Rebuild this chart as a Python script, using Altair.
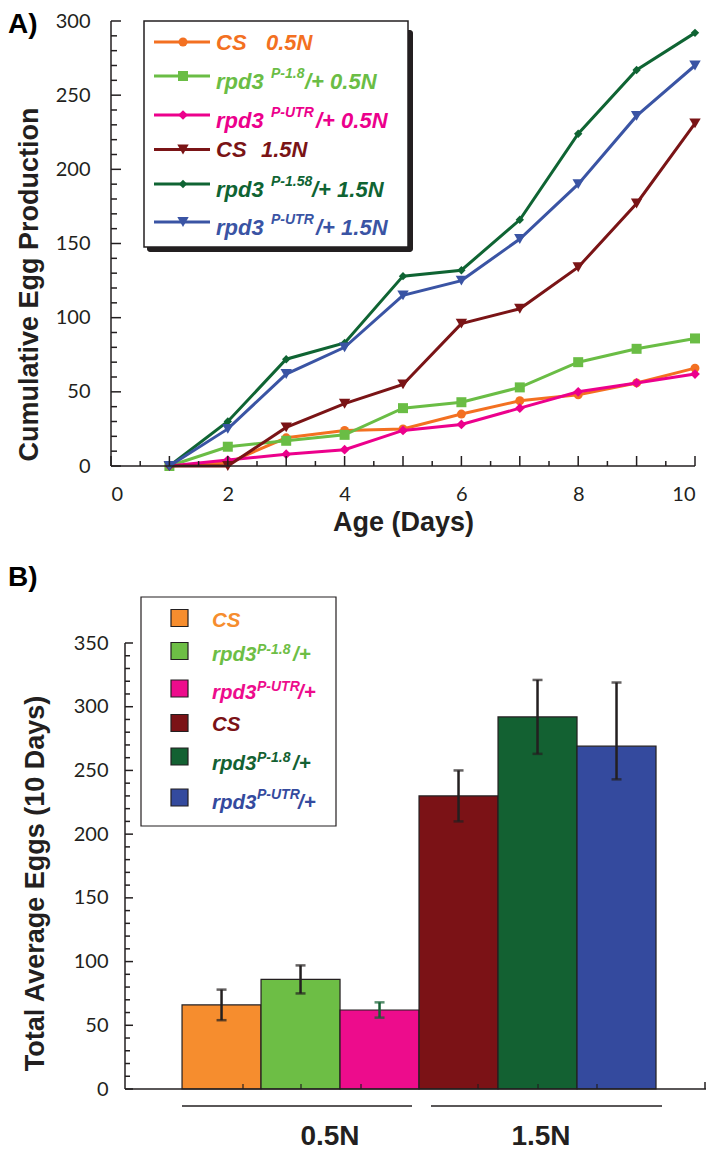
import altair as alt
import pandas as pd

# ---------------- Panel A data ----------------
days = [1, 2, 3, 4, 5, 6, 7, 8, 9, 10]
cs_05 = [0, 2, 19, 24, 25, 35, 44, 48, 56, 66]
p18_05 = [0, 13, 17, 21, 39, 43, 53, 70, 79, 86]
utr_05 = [0, 4, 8, 11, 24, 28, 39, 50, 56, 62]
cs_15 = [0, 0, 26, 42, 55, 96, 106, 134, 177, 231]
p158_15 = [0, 30, 72, 83, 128, 132, 166, 224, 267, 292]
utr_15 = [0, 25, 62, 80, 115, 125, 153, 190, 236, 270]
series_names = ["CS 0.5N", "rpd3 P-1.8/+ 0.5N", "rpd3 P-UTR/+ 0.5N",
                "CS 1.5N", "rpd3 P-1.58/+ 1.5N", "rpd3 P-UTR/+ 1.5N"]
series_values = [cs_05, p18_05, utr_05, cs_15, p158_15, utr_15]
x_tick_labels_a = [0, 2, 4, 6, 8, 10]
y_tick_labels_a = [0, 50, 100, 150, 200, 250, 300]

legA_base = ["CS", "rpd3", "rpd3", "CS", "rpd3", "rpd3"]
legA_sup = ["", "P-1.8", "P-UTR", "", "P-1.58", "P-UTR"]
legA_suffix = ["0.5N", "/+ 0.5N", "/+ 0.5N", "1.5N", "/+ 1.5N", "/+ 1.5N"]

# ---------------- Panel B data ----------------
bar_categories = ["CS 0.5N", "rpd3 P-1.8/+ 0.5N", "rpd3 P-UTR/+ 0.5N",
                  "CS 1.5N", "rpd3 P-1.8/+ 1.5N", "rpd3 P-UTR/+ 1.5N"]
bar_means = [66, 86, 62, 230, 292, 269]
bar_err_low = [12, 11, 6, 20, 29, 26]
bar_err_high = [12, 11, 6, 20, 29, 50]
y_tick_labels_b = [0, 50, 100, 150, 200, 250, 300, 350]
group_labels = ["0.5N", "1.5N"]

legB_base = ["CS", "rpd3", "rpd3", "CS", "rpd3", "rpd3"]
legB_sup = ["", "P-1.8", "P-UTR", "", "P-1.8", "P-UTR"]
legB_suffix = ["", "/+", "/+", "", "/+", "/+"]

# ---------------- styles ----------------
ink = "#231F20"
line_colors = ["#F37021", "#6ABD45", "#EC008C", "#7A1416", "#0F6433", "#3A54A4"]
shapes = ["circle", "square", "diamond", "triangle-down", "diamond", "triangle-down"]
sizes = [80, 100, 95, 130, 70, 130]
bar_colors = ["#F68D2E", "#6DBE45", "#ED0C8C", "#7B1216", "#136132", "#344A9E"]
err_colors = [ink, ink, "#136132", ink, ink, ink]
FONT = "Liberation Sans"
NUMFONT = "Lato"

W_A, H_A = 584, 445
W_B, H_B = 595, 446

one = pd.DataFrame({"k": [0]})


def txt(s, x, y, color, size, italic=True, align="left", baseline="alphabetic"):
    kw = dict(text=s, align=align, baseline=baseline, font=FONT, fontSize=size,
              fontWeight="bold", color=color)
    if italic:
        kw["fontStyle"] = "italic"
    return alt.Chart(one).mark_text(**kw).encode(x=alt.value(x), y=alt.value(y))


def hrule(x1, x2, y, color=ink, w=1.5):
    return alt.Chart(one).mark_rule(color=color, strokeWidth=w).encode(
        x=alt.value(x1), x2=alt.value(x2), y=alt.value(y))


def vrule(x, y1, y2, color=ink, w=1.5):
    return alt.Chart(one).mark_rule(color=color, strokeWidth=w).encode(
        x=alt.value(x), y=alt.value(y1), y2=alt.value(y2))


# ================= Panel A =================
xA = alt.Scale(domain=[0, 10], nice=False, zero=False)
yA = alt.Scale(domain=[0, 300], nice=False)

axisXA = alt.Axis(values=x_tick_labels_a, domain=False, ticks=False, tickSize=0, grid=False,
                  labelFont=NUMFONT, labelFontSize=20, labelColor=ink, labelPadding=18,
                  title="Age (Days)", titleFont=FONT, titleFontSize=27, titleFontWeight="bold",
                  titleColor=ink, titlePadding=5)
axisYA = alt.Axis(values=y_tick_labels_a, domain=False, ticks=False, tickSize=0, grid=False,
                  labelFont=NUMFONT, labelFontSize=20, labelColor=ink, labelPadding=21,
                  title="Cumulative Egg Production", titleFont=FONT, titleFontSize=27,
                  titleFontWeight="bold", titleColor=ink, titleAngle=270, titleAlign="center",
                  titleBaseline="alphabetic", titleX=-74, titleY=263)


def XA(f):
    return alt.X(f, scale=xA, axis=axisXA, title="Age (Days)")


def YA(f):
    return alt.Y(f, scale=yA, axis=axisYA, title="Cumulative Egg Production")


layersA = []
for i, (name, vals) in enumerate(zip(series_names, series_values)):
    df = pd.DataFrame({"day": days, "eggs": vals})
    layersA.append(alt.Chart(df).mark_line(color=line_colors[i], strokeWidth=3).encode(
        x=XA("day:Q"), y=YA("eggs:Q")))
    layersA.append(alt.Chart(df).mark_point(shape=shapes[i], size=sizes[i], filled=True,
                                             opacity=1, color=line_colors[i]).encode(
        x=XA("day:Q"), y=YA("eggs:Q")))

# axis lines
layersA.append(hrule(0, W_A, H_A))
layersA.append(vrule(0, 0, H_A))
# inward ticks
xt_major = pd.DataFrame({"v": list(range(0, 11))})
xt_minor = pd.DataFrame({"v": [i + 0.5 for i in range(10)]})
yt_major = pd.DataFrame({"v": list(range(0, 301, 50))})
yt_minor = pd.DataFrame({"v": [v for v in range(0, 301, 10) if v % 50]})
for df, ln in [(xt_major, 10), (xt_minor, 5)]:
    layersA.append(alt.Chart(df).mark_rule(color=ink, strokeWidth=1.5).encode(
        x=XA("v:Q"), y=alt.value(H_A), y2=alt.value(H_A - ln)))
for df, ln in [(yt_major, 10), (yt_minor, 6)]:
    layersA.append(alt.Chart(df).mark_rule(color=ink, strokeWidth=1.5).encode(
        y=YA("v:Q"), x=alt.value(0), x2=alt.value(ln)))

# legend A (drawn box with shadow)
layersA.append(alt.Chart(one).mark_rect(color=ink, cornerRadius=3).encode(
    x=alt.value(36), x2=alt.value(302), y=alt.value(9), y2=alt.value(231)))
layersA.append(alt.Chart(one).mark_rect(fill="white", stroke=ink, strokeWidth=1.5).encode(
    x=alt.value(33), x2=alt.value(297), y=alt.value(0), y2=alt.value(226)))
legA_line_y = [21, 55, 94, 128.5, 163, 201]
legA_base_dy = [8, 13, 13, 7.5, 13, 13]
legA_suffix_x = [155, 194, 205, 150, 201, 205]
for i in range(6):
    ly = legA_line_y[i]
    layersA.append(hrule(43, 99, ly, color=line_colors[i], w=3))
    layersA.append(alt.Chart(one).mark_point(shape=shapes[i], size=sizes[i], filled=True,
                                              opacity=1, color=line_colors[i]).encode(
        x=alt.value(72), y=alt.value(ly)))
    by = ly + legA_base_dy[i]
    layersA.append(txt(legA_base[i], 105, by, line_colors[i], 22))
    if legA_sup[i]:
        layersA.append(txt(legA_sup[i], 160, ly + 2, line_colors[i], 14))
    layersA.append(txt(legA_suffix[i], legA_suffix_x[i], by, line_colors[i], 22))

layersA.append(txt("A)", -103, -10, "#000000", 28, italic=False, baseline="top"))

chartA = alt.layer(*layersA).properties(width=W_A, height=H_A)

# ================= Panel B =================
dfB = pd.DataFrame({
    "cat": bar_categories,
    "mean": bar_means,
    "lo": [m - e for m, e in zip(bar_means, bar_err_low)],
    "hi": [m + e for m, e in zip(bar_means, bar_err_high)],
    "ecol": err_colors,
})
xB = alt.Scale(domain=bar_categories, paddingInner=0, paddingOuter=0.766, align=0.587)
yB = alt.Scale(domain=[0, 350], nice=False)

axisYB = alt.Axis(values=y_tick_labels_b, offset=-14, domain=False, ticks=False, tickSize=0,
                  grid=False, labelFont=NUMFONT, labelFontSize=20, labelColor=ink,
                  labelPadding=17, title="Total Average Eggs (10 Days)", titleFont=FONT,
                  titleFontSize=27, titleFontWeight="bold", titleColor=ink, titleAngle=270,
                  titleAlign="center", titleBaseline="alphabetic", titleX=-82, titleY=240)


def XB(f):
    return alt.X(f, scale=xB, sort=bar_categories, axis=None)


def YB(f):
    return alt.Y(f, scale=yB, axis=axisYB, title="Total Average Eggs (10 Days)")


layersB = []
layersB.append(alt.Chart(dfB).mark_bar(stroke=ink, strokeWidth=1.2).encode(
    x=XB("cat:N"), y=YB("mean:Q"),
    color=alt.Color("cat:N", scale=alt.Scale(domain=bar_categories, range=bar_colors),
                    legend=None)))
layersB.append(alt.Chart(dfB).mark_rule(strokeWidth=2.5).encode(
    x=XB("cat:N"), y=YB("lo:Q"), y2="hi:Q",
    color=alt.Color("ecol:N", scale=None, legend=None)))
for f in ["lo", "hi"]:
    layersB.append(alt.Chart(dfB).mark_tick(orient="horizontal", size=10, thickness=2.5).encode(
        x=XB("cat:N"), y=YB(f + ":Q"),
        color=alt.Color("ecol:N", scale=None, legend=None)))

# axis lines and inward ticks
layersB.append(vrule(14, 0, H_B))
layersB.append(hrule(14, W_B, H_B))
layersB.append(vrule(W_B - 1, H_B, H_B - 7))
for tx in [132, 190, 250, 367, 427, 486]:
    layersB.append(vrule(tx, H_B, H_B - 5, w=1.2))
ybt_major = pd.DataFrame({"v": list(range(0, 351, 50))})
ybt_minor = pd.DataFrame({"v": [v for v in range(0, 351, 10) if v % 50]})
for df, ln in [(ybt_major, 8), (ybt_minor, 5)]:
    layersB.append(alt.Chart(df).mark_rule(color=ink, strokeWidth=1.5).encode(
        y=YB("v:Q"), x=alt.value(14), x2=alt.value(14 + ln)))

# group underlines and labels
layersB.append(hrule(71, 301, 463, w=1.3))
layersB.append(hrule(320, 551, 463, w=1.3))
layersB.append(txt(group_labels[0], 219, 502, ink, 28, italic=False, align="center"))
layersB.append(txt(group_labels[1], 430, 502, ink, 28, italic=False, align="center"))

# legend B
layersB.append(alt.Chart(one).mark_rect(fill="white", stroke=ink, strokeWidth=1.2).encode(
    x=alt.value(30), x2=alt.value(225), y=alt.value(-46), y2=alt.value(183)))
legB_row_y = [-25, 8, 45.5, 80, 113.5, 154.5]
legB_base_y = [-16, 17.7, 56, 87.7, 126.7, 166]
legB_sup_y = [0, 11, 48, 0, 119, 156]
legB_suffix_x = [0, 182, 187, 0, 182, 187]
for i in range(6):
    cy = legB_row_y[i]
    layersB.append(alt.Chart(one).mark_rect(fill=bar_colors[i], stroke=ink, strokeWidth=1.2).encode(
        x=alt.value(60), x2=alt.value(77), y=alt.value(cy - 8.5), y2=alt.value(cy + 8.5)))
    layersB.append(txt(legB_base[i], 101, legB_base_y[i], bar_colors[i], 20.5))
    if legB_sup[i]:
        layersB.append(txt(legB_sup[i], 146, legB_sup_y[i], bar_colors[i], 14))
        layersB.append(txt(legB_suffix[i], legB_suffix_x[i], legB_base_y[i], bar_colors[i], 20.5))

layersB.append(txt("B)", -103, -79, "#000000", 28, italic=False, baseline="top"))

chartB = alt.layer(*layersB).properties(width=W_B, height=H_B)

chart = alt.vconcat(chartA, chartB, spacing=29).properties(
    padding={"left": 0, "right": 0, "top": 3, "bottom": 0}, background="white"
).configure_view(stroke=None)

chart.save("out.html", embed_options={"renderer": "svg", "actions": False})
